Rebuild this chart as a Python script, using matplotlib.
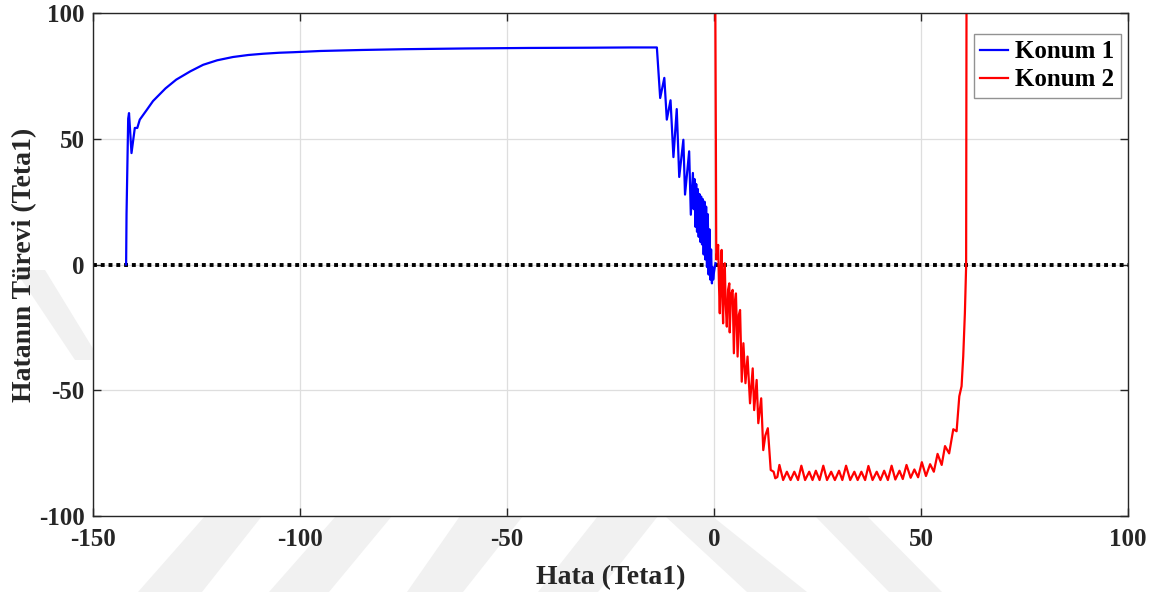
import numpy as np
import matplotlib
matplotlib.use('Agg')
from matplotlib import pyplot as plt
from matplotlib.patches import Polygon

# Konum 1 (blue)
konum1_x = [-142.0, -141.9, -141.5, -141.3, -140.7, -139.9, -139.3, -138.7, -137.0, -135.5,
            -132.5, -129.9, -126.5, -123.4, -120.0, -116.2, -112.5, -108.9, -105.0, -101.7,
            -95.0, -85.0, -75.0, -60.0, -45.0, -30.0, -20.0, -13.8,
            -13.0, -12.0, -11.4, -10.5, -9.8, -9.0, -8.4, -7.4, -7.0, -6.0, -5.6, -5.1,
            -4.9, -4.7, -4.5, -4.3, -4.1, -3.9, -3.7, -3.5, -3.3, -3.1, -2.9, -2.7, -2.5,
            -2.3, -2.1, -1.9, -1.7, -1.5, -1.3, -1.1, -0.9, -0.7, -0.5, -0.35, -0.2, 0.0, 0.35]
konum1_y = [0.0, 20.0, 58.0, 60.2, 44.3, 54.3, 54.3, 57.6, 61.5, 65.0,
            70.0, 73.5, 76.8, 79.4, 81.2, 82.5, 83.3, 83.8, 84.2, 84.4,
            84.9, 85.3, 85.6, 85.9, 86.1, 86.2, 86.3, 86.3,
            66.2, 74.2, 57.6, 65.3, 42.7, 61.8, 34.8, 49.6, 27.8, 45.0, 19.8, 36.4,
            22.0, 34.0, 15.0, 32.0, 13.0, 30.0, 11.0, 28.0, 9.0, 27.0, 8.0, 26.0, 4.0,
            25.0, 2.0, 23.0, -1.0, 20.0, -4.0, 14.0, -6.0, 6.0, -7.5, -1.0, -6.0, -3.0, 0.5]

# Konum 2 (red)
konum2_x = [0.3, 0.45, 0.55, 1.0, 1.2, 1.4, 1.6, 1.85, 2.0, 2.2, 2.4, 2.6, 2.8, 3.1, 3.4,
            3.7, 3.8, 4.1, 4.5, 4.8, 5.1, 5.3, 5.7, 6.0, 6.3, 6.7, 7.1, 7.6, 8.1, 8.7,
            9.35, 9.7, 10.3, 10.7, 11.4, 11.9, 12.4, 13.0, 13.7, 14.4, 14.8, 15.3,
            15.8, 16.7, 17.6, 18.5, 19.4, 20.3, 21.1, 22.0, 23.0, 23.8, 24.6, 25.5,
            26.4, 27.3, 28.3, 29.2, 30.2, 31.0, 31.9, 32.9, 33.9, 34.7, 35.6, 36.5,
            37.3, 38.3, 39.3, 40.2, 41.1, 42.0, 42.9, 43.8, 44.8, 45.6, 46.5, 47.5,
            48.4, 49.3, 50.2, 51.2, 52.2, 53.1, 54.0, 55.0, 55.8, 56.8, 57.8,
            58.6, 59.25, 59.8, 60.2, 60.6, 60.9, 61.0]
konum2_y = [110.0, 50.0, 2.0, 7.8, -8.0, -19.4, -2.0, 5.8, -12.0, -23.4, -5.0, 0.5, -15.0, -24.7, -10.0,
            -7.5, -27.0, -12.0, -10.1, -35.3, -14.0, -11.5, -36.6, -20.0, -18.1, -46.6, -31.3, -47.2, -36.6, -55.2,
            -41.3, -57.9, -45.9, -63.1, -53.2, -73.8, -68.0, -65.1, -81.7, -82.4, -85.0, -84.5,
            -79.7, -85.7, -82.4, -85.7, -82.4, -85.7, -80.0, -85.7, -82.4, -85.7, -82.0, -85.7,
            -80.0, -85.7, -82.4, -85.7, -82.0, -85.7, -80.0, -85.7, -82.4, -85.7, -82.4, -85.7,
            -80.1, -85.7, -82.4, -85.7, -82.0, -85.7, -80.0, -85.5, -82.0, -85.3, -79.7, -84.8,
            -81.5, -84.6, -78.6, -84.1, -79.4, -82.4, -75.3, -79.7, -72.2, -75.1, -65.5,
            -66.3, -52.4, -48.4, -36.5, -19.3, -0.7, 110.0]

x_ticks = [-150, -100, -50, 0, 50, 100]
y_ticks = [-100, -50, 0, 50, 100]

# faint background watermark bands (pixel coords, y from top)
watermark = [
    [(205, 516), (262, 516), (202, 592), (138, 592)],
    [(336, 516), (392, 516), (329, 592), (269, 592)],
    [(460, 516), (523, 516), (463, 592), (407, 592)],
    [(598, 516), (658, 516), (598, 592), (538, 592)],
    [(665, 516), (712, 516), (807, 592), (747, 592)],
    [(815, 516), (867, 516), (942, 592), (889, 592)],
    [(15, 270), (45, 270), (100, 360), (75, 360)],
]

plt.rcParams['font.family'] = ['Liberation Serif', 'DejaVu Serif']
plt.rcParams['font.weight'] = 'bold'
plt.rcParams['axes.unicode_minus'] = False

W, H = 1161, 592
fig = plt.figure(figsize=(W / 100, H / 100), dpi=100)
for band in watermark:
    pts = [(x / W, 1 - y / H) for x, y in band]
    fig.add_artist(Polygon(pts, closed=True, transform=fig.transFigure,
                           facecolor='#f1f1f1', edgecolor='none', zorder=0))

ax = fig.add_axes([93/W, 76/H, 1035/W, 503/H])
ax.set_zorder(1)

ax.plot(konum1_x, konum1_y, color='#0000ff', lw=1.6, label='Konum 1')
ax.plot(konum2_x, konum2_y, color='#ff0000', lw=1.6, label='Konum 2')
ax.axhline(0, color='black', ls=(0, (1, 1)), lw=2.8, zorder=1)

ax.set_xlim(-150, 100)
ax.set_ylim(-100, 100)
ax.set_xticks(x_ticks)
ax.set_yticks(y_ticks)
ax.grid(True, color='#dedede', lw=0.9)
ax.set_axisbelow(True)
ax.tick_params(direction='in', length=6, width=1, colors='#262626', labelsize=18,
               top=True, right=True, pad=6)
ax.tick_params(axis='x', pad=9)
for s in ax.spines.values():
    s.set_color('#262626')
    s.set_linewidth(1)

ax.set_xlabel('Hata (Teta1)', fontsize=20, fontweight='bold', color='#262626', labelpad=10)
ax.set_ylabel('Hatanın Türevi (Teta1)', fontsize=20, fontweight='bold', color='#262626')
ax.yaxis.set_label_coords(-0.054, 0.5)

leg = ax.legend(loc='upper right', bbox_to_anchor=(0.993, 0.958), borderaxespad=0,
                fontsize=18, fancybox=False, handlelength=1.1, handletextpad=0.3,
                borderpad=0.25, labelspacing=0.2)
leg.get_frame().set_edgecolor('#777777')
leg.get_frame().set_linewidth(1)

fig.savefig('out.png', dpi=100, facecolor='white')
